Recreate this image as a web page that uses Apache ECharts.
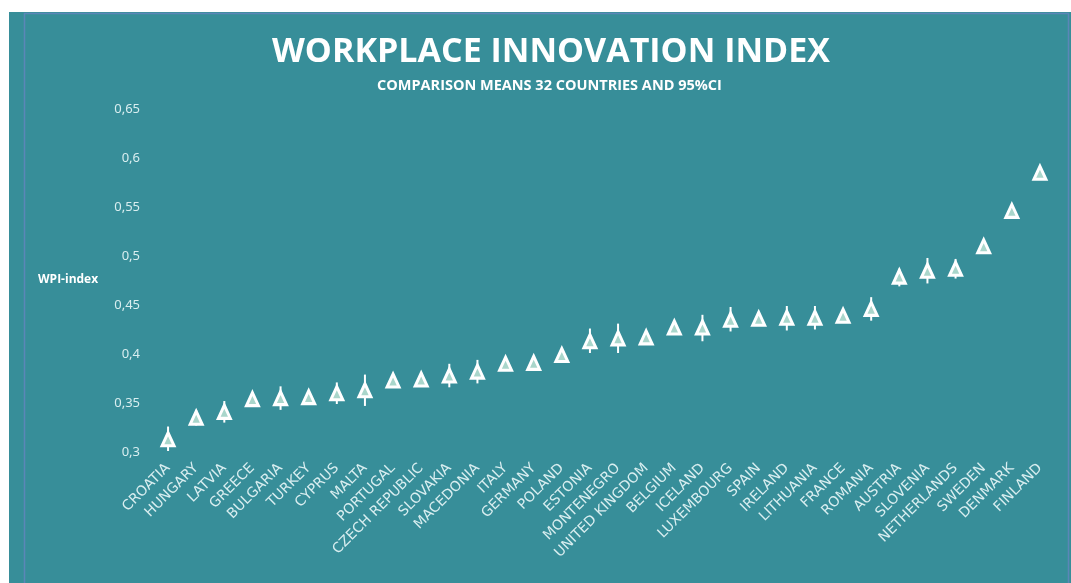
<!DOCTYPE html>
<html>
<head>
<meta charset="utf-8">
<script src="https://cdn.jsdelivr.net/npm/echarts@6/dist/echarts.min.js"></script>
<style>
  html, body { margin: 0; padding: 0; background: #fff; }
  #chart { width: 1071px; height: 583px; }
</style>
</head>
<body>
<div id="chart"></div>
<script>
// countries sorted by mean WPI-index
const countries = [
  'CROATIA', 'HUNGARY', 'LATVIA', 'GREECE', 'BULGARIA', 'TURKEY', 'CYPRUS', 'MALTA',
  'PORTUGAL', 'CZECH REPUBLIC', 'SLOVAKIA', 'MACEDONIA', 'ITALY', 'GERMANY', 'POLAND',
  'ESTONIA', 'MONTENEGRO', 'UNITED KINGDOM', 'BELGIUM', 'ICELAND', 'LUXEMBOURG', 'SPAIN',
  'IRELAND', 'LITHUANIA', 'FRANCE', 'ROMANIA', 'AUSTRIA', 'SLOVENIA', 'NETHERLANDS',
  'SWEDEN', 'DENMARK', 'FINLAND'
];
const means = [
  0.313, 0.335, 0.341, 0.354, 0.355, 0.356, 0.360, 0.363,
  0.373, 0.374, 0.378, 0.382, 0.390, 0.391, 0.399,
  0.413, 0.416, 0.417, 0.427, 0.427, 0.435, 0.436,
  0.437, 0.437, 0.439, 0.446, 0.479, 0.485, 0.487,
  0.510, 0.546, 0.585
];
// 95% confidence interval
const ciLow = [
  0.301, 0.327, 0.330, 0.346, 0.343, 0.350, 0.349, 0.347,
  0.366, 0.368, 0.366, 0.370, 0.384, 0.385, 0.393,
  0.401, 0.401, 0.411, 0.420, 0.413, 0.423, 0.430,
  0.424, 0.425, 0.433, 0.434, 0.469, 0.472, 0.477,
  0.504, 0.540, 0.579
];
const ciHigh = [
  0.326, 0.343, 0.352, 0.361, 0.367, 0.362, 0.371, 0.379,
  0.380, 0.381, 0.390, 0.394, 0.396, 0.397, 0.405,
  0.426, 0.431, 0.423, 0.433, 0.440, 0.448, 0.442,
  0.449, 0.449, 0.445, 0.458, 0.487, 0.498, 0.497,
  0.516, 0.552, 0.592
];

const teal = '#378e99';
const light = '#d9eef0';

const chart = echarts.init(document.getElementById('chart'));

chart.setOption({
  backgroundColor: '#fff',
  animation: false,
  graphic: [
    { type: 'rect', z: -100, shape: { x: 9, y: 12, width: 1062, height: 571 }, style: { fill: teal } },
    { type: 'rect', z: -99, shape: { x: 24.5, y: 13.5, width: 1044, height: 580 },
      style: { fill: null, stroke: '#5b86b8', lineWidth: 1.5 } },
    { type: 'text', left: 38, top: 274,
      style: { text: 'WPI-index', fill: '#fff', font: 'bold 12px "Open Sans"' } }
  ],
  title: [
    {
      text: 'WORKPLACE INNOVATION INDEX',
      left: 267, top: 30,
      textStyle: { color: '#fff', fontSize: 34, fontWeight: 'bold', fontFamily: 'Open Sans' }
    },
    {
      text: 'COMPARISON MEANS 32 COUNTRIES AND 95%CI',
      left: 372, top: 73,
      textStyle: { color: '#fff', fontSize: 14.5, fontWeight: 'bold', fontFamily: 'Open Sans' }
    }
  ],
  grid: { left: 154, right: 17, top: 109, bottom: 131 },
  xAxis: {
    type: 'category',
    data: countries,
    axisLine: { show: false },
    axisTick: { show: false },
    splitLine: { show: false },
    axisLabel: {
      interval: 0, rotate: 45, margin: 14,
      color: light, fontSize: 14, fontFamily: 'DejaVu Sans'
    }
  },
  yAxis: {
    type: 'value',
    min: 0.3, max: 0.65, interval: 0.05,
    axisLine: { show: false },
    axisTick: { show: false },
    splitLine: { show: false },
    axisLabel: {
      margin: 14, color: light, fontSize: 13, fontFamily: 'Noto Sans',
      formatter: (v) => String(+v.toFixed(2)).replace('.', ',')
    }
  },
  series: [
    {
      type: 'custom',
      z: 2,
      data: countries.map((c, i) => [i, ciLow[i], ciHigh[i]]),
      renderItem: (params, api) => {
        const lo = api.coord([api.value(0), api.value(1)]);
        const hi = api.coord([api.value(0), api.value(2)]);
        return {
          type: 'line',
          shape: { x1: lo[0], y1: lo[1], x2: hi[0], y2: hi[1] },
          style: { stroke: '#fff', lineWidth: 2 }
        };
      }
    },
    {
      type: 'scatter',
      z: 3,
      data: means,
      symbol: 'triangle',
      symbolSize: [12, 13],
      itemStyle: { color: '#a9d6cb', borderColor: '#fff', borderWidth: 3, opacity: 1 }
    }
  ]
});
</script>
</body>
</html>
